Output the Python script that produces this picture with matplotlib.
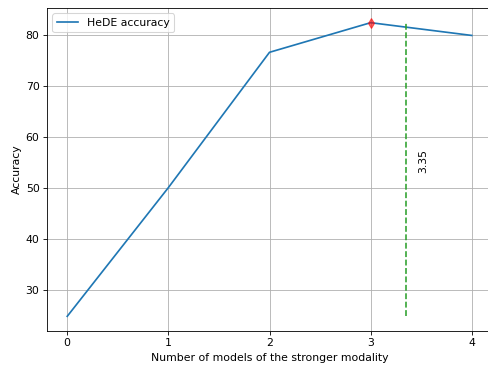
import matplotlib
matplotlib.use("Agg")
import matplotlib.pyplot as plt
import numpy as np

# Number of models drawn from the stronger modality and the resulting accuracy
num_models = [0, 1, 2, 3, 4]
accuracy = [24.9, 50.1, 76.6, 82.4, 79.9]
threshold = 3.35

plt.rcParams["font.size"] = 10.25

DPI = 76.25
W, H = 488, 368
fig = plt.figure(figsize=(W / DPI, H / DPI), dpi=DPI)
ax = fig.add_axes([47 / W, 1 - 331 / H, (492 - 47) / W, (331 - 8) / H])

ax.plot(num_models, accuracy, label="HeDE accuracy", linewidth=1.6)

best = int(np.argmax(accuracy))
ax.plot(num_models[best], accuracy[best], marker="d", color="red",
        markersize=7, alpha=0.6, linestyle="none")

ax.vlines(threshold, min(accuracy), max(accuracy), colors="#2ca02c",
          linestyles="dashed")
ax.text(threshold + 0.17, 55.4, f"{threshold}", rotation=90,
        ha="center", va="center")

ax.set_xlabel("Number of models of the stronger modality")
ax.set_ylabel("Accuracy")
ax.set_xticks(num_models)
ax.grid(True)
ax.legend(loc="upper left")

fig.savefig("out.png", dpi=DPI)
